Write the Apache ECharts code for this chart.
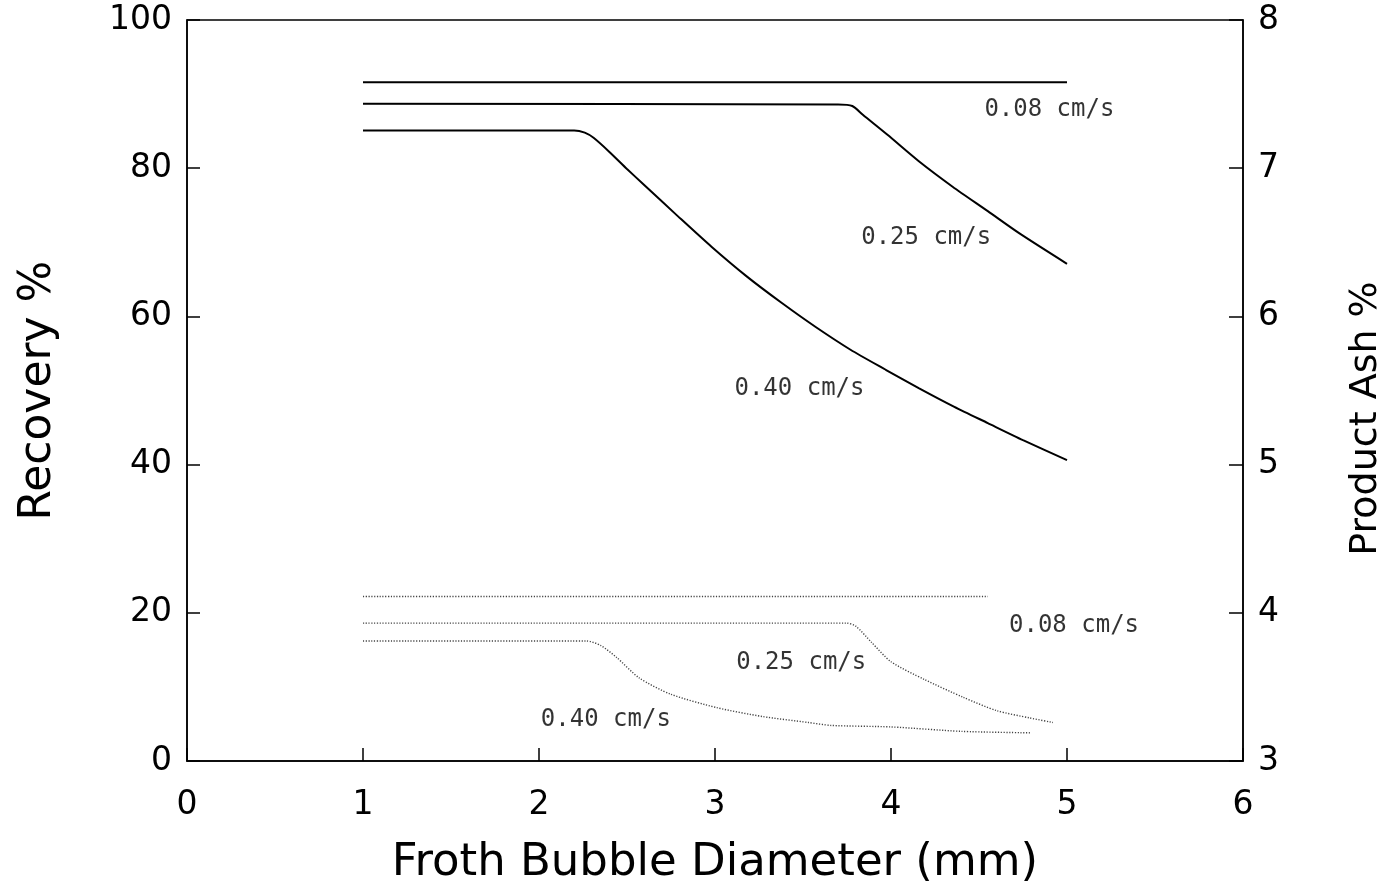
<!DOCTYPE html>
<html>
<head>
<meta charset="utf-8">
<title>Froth Bubble Diameter</title>
<script src="https://cdn.jsdelivr.net/npm/echarts@6/dist/echarts.min.js"></script>
<style>
  html, body { margin: 0; padding: 0; background: #fff; }
  #chart { width: 1385px; height: 892px; }
</style>
</head>
<body>
<div id="chart"></div>
<script>
// Recovery (%) against froth bubble diameter (mm), solid curves, left axis
const rec008X = [1, 5];
const rec008Y = [91.6, 91.6];
const rec025X = [1, 3.70, 3.78, 3.84, 3.98, 4.16, 4.35, 4.55, 4.73, 5.0];
const rec025Y = [88.7, 88.6, 88.4, 87.2, 84.5, 80.9, 77.5, 74.2, 71.2, 67.1];
const rec040X = [1, 2.20, 2.26, 2.31, 2.40, 2.50, 2.59, 2.79, 2.98, 3.18, 3.38, 3.57, 3.77, 3.97, 4.16, 4.36, 4.55, 4.75, 5.0];
const rec040Y = [85.1, 85.1, 84.8, 84.1, 82.2, 79.9, 77.9, 73.5, 69.4, 65.4, 61.8, 58.6, 55.5, 52.8, 50.3, 47.8, 45.6, 43.3, 40.6];

// Product ash (%) against froth bubble diameter (mm), dotted curves, right axis
const ash008X = [1, 4.55];
const ash008Y = [4.11, 4.11];
const ash025X = [1, 3.75, 3.80, 3.89, 4.00, 4.19, 4.41, 4.60, 4.79, 4.92];
const ash025Y = [3.93, 3.93, 3.91, 3.80, 3.67, 3.55, 3.43, 3.34, 3.29, 3.26];
const ash040X = [1, 2.27, 2.35, 2.44, 2.57, 2.75, 3.01, 3.27, 3.53, 3.66, 4.00, 4.40, 4.79];
const ash040Y = [3.81, 3.81, 3.78, 3.70, 3.56, 3.45, 3.36, 3.30, 3.26, 3.24, 3.23, 3.20, 3.19];

// Curve annotations (superficial gas velocity), in data units
const recLabelText = ['0.08 cm/s', '0.25 cm/s', '0.40 cm/s'];
const recLabelX = [4.90, 4.20, 3.48];
const recLabelY = [87.9, 70.6, 50.2];
const ashLabelText = ['0.08 cm/s', '0.25 cm/s', '0.40 cm/s'];
const ashLabelX = [5.04, 3.49, 2.38];
const ashLabelY = [3.91, 3.66, 3.28];

// Axis ticks
const xTicks = [0, 1, 2, 3, 4, 5, 6];
const recTicks = [0, 20, 40, 60, 80, 100];
const ashTicks = [3, 4, 5, 6, 7, 8];

const zip = (xs, ys) => xs.map((x, i) => [x, ys[i]]);

const FONT = 'DejaVu Sans';
const solid = { color: '#000', width: 2, type: 'solid' };
const dotted = { color: '#444', width: 1.4, type: [1.2, 1.6] };

function curve(name, xs, ys, yAxisIndex, style) {
  return {
    name, type: 'line', yAxisIndex,
    data: zip(xs, ys),
    showSymbol: false, symbol: 'none',
    smooth: 0.25,
    lineStyle: style, silent: true, animation: false
  };
}

function labels(texts, xs, ys, yAxisIndex) {
  return {
    type: 'scatter', yAxisIndex, symbolSize: 0, silent: true, animation: false,
    data: texts.map((t, i) => ({ value: [xs[i], ys[i]], text: t })),
    label: {
      show: true, position: 'inside',
      formatter: p => p.data.text,
      fontFamily: 'DejaVu Sans Mono', fontSize: 24, color: '#000'
    }
  };
}

const chart = echarts.init(document.getElementById('chart'));
chart.setOption({
  backgroundColor: '#fff',
  animation: false,
  grid: {
    left: 187, right: 142, top: 20, bottom: 131,
    outerBoundsMode: 'none', containLabel: false,
    show: true, borderColor: '#000', borderWidth: 1.5, backgroundColor: 'transparent'
  },
  xAxis: {
    type: 'value', min: xTicks[0], max: xTicks[xTicks.length - 1], interval: 1,
    name: 'Froth Bubble Diameter (mm)', nameLocation: 'middle', nameGap: 80,
    nameTextStyle: { fontFamily: FONT, fontSize: 45, color: '#000' },
    axisLine: { show: true, lineStyle: { color: '#000', width: 1.5 } },
    axisTick: { show: true, inside: true, length: 13, lineStyle: { color: '#000', width: 1.5 } },
    axisLabel: { margin: 28, fontFamily: FONT, fontSize: 33, color: '#000' },
    splitLine: { show: false }
  },
  yAxis: [{
    type: 'value', position: 'left', min: recTicks[0], max: recTicks[recTicks.length - 1], interval: 20,
    name: 'Recovery %', nameLocation: 'middle', nameGap: 126, nameRotate: 90,
    nameTextStyle: { fontFamily: FONT, fontSize: 44, color: '#000' },
    axisLine: { show: true, lineStyle: { color: '#000', width: 1.5 } },
    axisTick: { show: true, inside: true, length: 13, lineStyle: { color: '#000', width: 1.5 } },
    axisLabel: { margin: 15, fontFamily: FONT, fontSize: 33, color: '#000' },
    splitLine: { show: false }
  }, {
    type: 'value', position: 'right', min: ashTicks[0], max: ashTicks[ashTicks.length - 1], interval: 1,
    name: 'Product Ash %', nameLocation: 'middle', nameGap: 104, nameRotate: 90,
    nameTextStyle: { fontFamily: FONT, fontSize: 38, color: '#000', padding: [0, 56, 0, 0] },
    axisLine: { show: true, lineStyle: { color: '#000', width: 1.5 } },
    axisTick: { show: true, inside: true, length: 14, lineStyle: { color: '#000', width: 1.5 } },
    axisLabel: { margin: 15, fontFamily: FONT, fontSize: 33, color: '#000' },
    splitLine: { show: false }
  }],
  series: [
    curve('Recovery 0.08 cm/s', rec008X, rec008Y, 0, solid),
    curve('Recovery 0.25 cm/s', rec025X, rec025Y, 0, solid),
    curve('Recovery 0.40 cm/s', rec040X, rec040Y, 0, solid),
    curve('Ash 0.08 cm/s', ash008X, ash008Y, 1, dotted),
    curve('Ash 0.25 cm/s', ash025X, ash025Y, 1, dotted),
    curve('Ash 0.40 cm/s', ash040X, ash040Y, 1, dotted),
    labels(recLabelText, recLabelX, recLabelY, 0),
    labels(ashLabelText, ashLabelX, ashLabelY, 1)
  ]
});
</script>
</body>
</html>
